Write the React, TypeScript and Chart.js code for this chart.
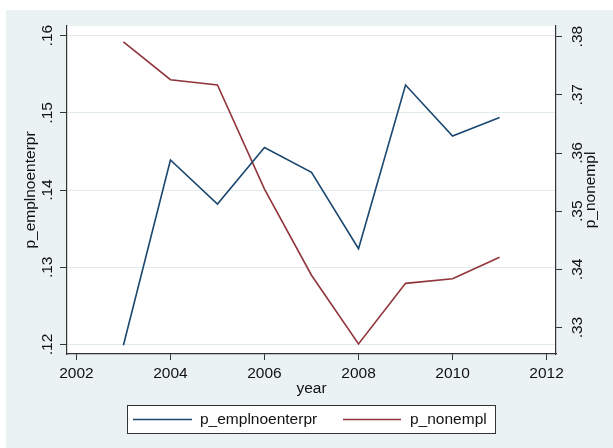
import { useEffect, useRef } from 'react';
import { Chart, ChartConfiguration, registerables, Plugin } from 'chart.js';

Chart.register(...registerables);

// data
const years = [2003, 2004, 2005, 2006, 2007, 2008, 2009, 2010, 2011];
const emplNoEnterpr = [0.1199, 0.1439, 0.1382, 0.1455, 0.1423, 0.1324, 0.1536, 0.147, 0.1494];
const nonEmpl = [0.3791, 0.3726, 0.3717, 0.3538, 0.339, 0.3272, 0.3376, 0.3384, 0.3421];

const xTicks = [2002, 2004, 2006, 2008, 2010, 2012];
const leftTicks = [0.12, 0.13, 0.14, 0.15, 0.16];
const rightTicks = [0.33, 0.34, 0.35, 0.36, 0.37, 0.38];

const seriesLabels = ['p_emplnoenterpr', 'p_nonempl'];
const seriesColors = ['#1a476f', '#90353b'];

const BG = '#eaf2f3';
const AXIS = '#333333';
const TEXT = '#111111';
const FONT = '15.5px "Liberation Sans", Arial, sans-serif';

// Stata style: ".12" instead of "0.12"
const fmt = (v: number) => v.toFixed(2).replace(/^0/, '');

const rotatedText = (ctx: CanvasRenderingContext2D, text: string, x: number, y: number) => {
    ctx.save();
    ctx.translate(x, y);
    ctx.rotate(-Math.PI / 2);
    ctx.textAlign = 'center';
    ctx.textBaseline = 'middle';
    ctx.fillText(text, 0, 0);
    ctx.restore();
};

const stataFrame: Plugin<'line'> = {
    id: 'stataFrame',
    beforeDraw: (chart) => {
        const { ctx, chartArea, width, height } = chart;
        ctx.save();
        ctx.fillStyle = '#ffffff';
        ctx.fillRect(0, 0, width, height);
        ctx.fillStyle = BG;
        ctx.fillRect(6, 10, width - 6, height - 10);
        ctx.fillStyle = '#ffffff';
        ctx.fillRect(chartArea.left, chartArea.top, chartArea.right - chartArea.left, chartArea.bottom - chartArea.top);
        ctx.restore();
    },
    afterDraw: (chart) => {
        const { ctx, chartArea, scales } = chart;
        const midY = (chartArea.top + chartArea.bottom) / 2;
        ctx.save();
        ctx.font = FONT;
        ctx.fillStyle = TEXT;

        // y tick labels, rotated like Stata does
        leftTicks.forEach((v) => rotatedText(ctx, fmt(v), 48, scales.y.getPixelForValue(v)));
        rightTicks.forEach((v) => rotatedText(ctx, fmt(v), 578, scales.y1.getPixelForValue(v)));
        rotatedText(ctx, seriesLabels[0], 31, midY);
        rotatedText(ctx, seriesLabels[1], 591, midY);

        // x tick labels and title
        ctx.textAlign = 'center';
        ctx.textBaseline = 'middle';
        xTicks.forEach((v) => ctx.fillText(String(v), scales.x.getPixelForValue(v), 374));
        ctx.fillText('year', (chartArea.left + chartArea.right) / 2, 389);

        // legend box
        ctx.fillStyle = '#ffffff';
        ctx.fillRect(127.5, 405.5, 368, 28);
        ctx.strokeStyle = AXIS;
        ctx.lineWidth = 1;
        ctx.strokeRect(127.5, 405.5, 368, 28);

        const items = [
            { x0: 133, x1: 192, tx: 200 },
            { x0: 343, x1: 401, tx: 410 },
        ];
        items.forEach((it, i) => {
            ctx.strokeStyle = seriesColors[i];
            ctx.lineWidth = 1.5;
            ctx.beginPath();
            ctx.moveTo(it.x0, 419.5);
            ctx.lineTo(it.x1, 419.5);
            ctx.stroke();
            ctx.fillStyle = TEXT;
            ctx.textAlign = 'left';
            ctx.fillText(seriesLabels[i], it.tx, 420);
        });
        ctx.restore();
    },
};

const App = () => {
    const canvasRef = useRef<HTMLCanvasElement | null>(null);
    const chartInstance = useRef<Chart<'line'> | null>(null);

    useEffect(() => {
        document.body.style.margin = '0';
        if (!canvasRef.current) return;
        if (chartInstance.current) {
            chartInstance.current.destroy();
        }

        const config: ChartConfiguration<'line'> = {
            type: 'line',
            data: {
                datasets: [
                    {
                        label: seriesLabels[0],
                        data: years.map((x, i) => ({ x, y: emplNoEnterpr[i] })),
                        borderColor: seriesColors[0],
                        borderWidth: 1.6,
                        pointRadius: 0,
                        tension: 0,
                        yAxisID: 'y',
                    },
                    {
                        label: seriesLabels[1],
                        data: years.map((x, i) => ({ x, y: nonEmpl[i] })),
                        borderColor: seriesColors[1],
                        borderWidth: 1.6,
                        pointRadius: 0,
                        tension: 0,
                        yAxisID: 'y1',
                    },
                ],
            },
            options: {
                responsive: false,
                animation: false,
                layout: { padding: { top: 26, left: 0, right: 0, bottom: 0 } },
                plugins: {
                    legend: { display: false },
                    tooltip: { enabled: false },
                },
                scales: {
                    x: {
                        type: 'linear',
                        position: 'bottom',
                        min: 2001.8,
                        max: 2012.2,
                        afterBuildTicks: (s) => {
                            s.ticks = xTicks.map((value) => ({ value }));
                        },
                        afterFit: (s) => {
                            s.height = 94;
                        },
                        ticks: { display: false },
                        grid: { drawOnChartArea: false, tickLength: 6, tickColor: AXIS, tickWidth: 1 },
                        border: { color: AXIS, width: 1.2 },
                    },
                    y: {
                        type: 'linear',
                        position: 'left',
                        min: 0.11877,
                        max: 0.16125,
                        afterBuildTicks: (s) => {
                            s.ticks = leftTicks.map((value) => ({ value }));
                        },
                        afterFit: (s) => {
                            s.width = 67;
                        },
                        ticks: { display: false },
                        grid: { color: '#e3eced', lineWidth: 1, tickLength: 7, tickColor: AXIS, tickWidth: 1 },
                        border: { color: AXIS, width: 1.2 },
                    },
                    y1: {
                        type: 'linear',
                        position: 'right',
                        min: 0.32546,
                        max: 0.38183,
                        afterBuildTicks: (s) => {
                            s.ticks = rightTicks.map((value) => ({ value }));
                        },
                        afterFit: (s) => {
                            s.width = 57;
                        },
                        ticks: { display: false },
                        grid: { drawOnChartArea: false, tickLength: 6, tickColor: AXIS, tickWidth: 1 },
                        border: { color: AXIS, width: 1.2 },
                    },
                },
            },
            plugins: [stataFrame],
        };

        chartInstance.current = new Chart(canvasRef.current, config);

        return () => {
            if (chartInstance.current) {
                chartInstance.current.destroy();
                chartInstance.current = null;
            }
        };
    }, []);

    return (
        <div style={{ width: 613, height: 448 }}>
            <canvas ref={canvasRef} width={613} height={448} style={{ display: 'block' }} />
        </div>
    );
};

export default App;
